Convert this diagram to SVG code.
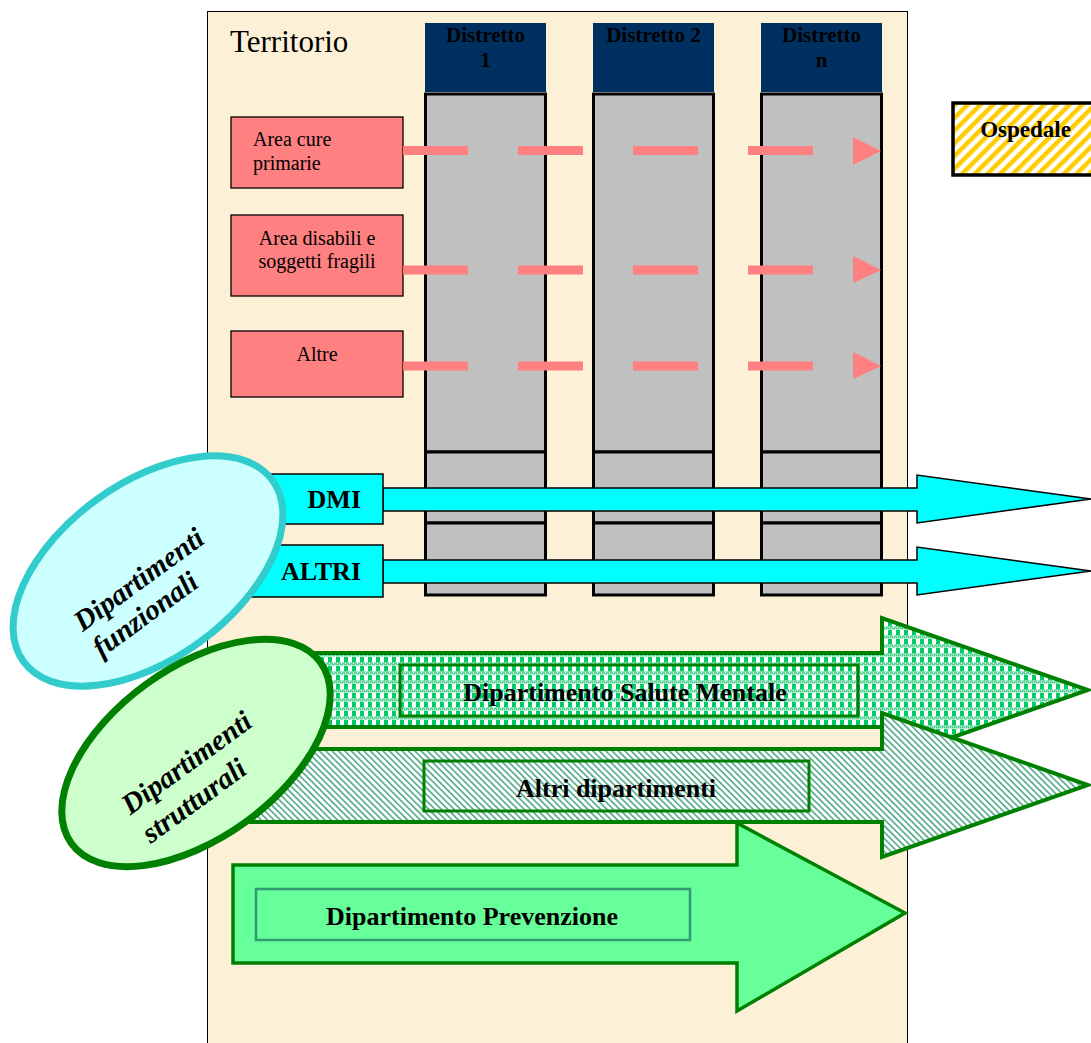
<svg xmlns="http://www.w3.org/2000/svg" width="1091" height="1043" viewBox="0 0 1091 1043">
<style>
.serif{font-family:"Liberation Serif","Times New Roman",serif;}
.hdr{font-family:"Liberation Serif",serif;font-weight:bold;font-size:21px;fill:#000;text-anchor:middle;}
.pinkt{font-family:"Liberation Serif",serif;font-size:20px;fill:#000;}
.pink{fill:#FF8080;stroke:#000;stroke-width:1.3;}
.col{fill:#C0C0C0;stroke:#000;stroke-width:3;}
.head{fill:#003060;}
.dash{stroke:#FF8080;stroke-width:9;stroke-dasharray:65 50;fill:none;}
.tri{fill:#FF8080;}
.cyan{fill:#00FFFF;stroke:#000;stroke-width:1.5;}
.big{font-family:"Liberation Serif",serif;font-weight:bold;font-size:26px;fill:#000;}
.ell{font-family:"Liberation Serif",serif;font-weight:bold;font-style:italic;font-size:29px;fill:#000;}
.garrow{stroke:#008000;stroke-width:4;stroke-linejoin:miter;}
.inner{fill:none;stroke:#008000;stroke-width:3;}
</style>
<defs>
<pattern id="ospStripe" width="9" height="9" patternUnits="userSpaceOnUse" patternTransform="rotate(45)">
<rect width="9" height="9" fill="#FFFFFF"/>
<rect width="4.5" height="9" fill="#FFCC00"/>
</pattern>
<pattern id="check" width="8" height="9" patternUnits="userSpaceOnUse">
<rect width="8" height="9" fill="#FFFFFF"/>
<rect x="0" y="0" width="4" height="5.5" fill="#00CC66"/>
<rect x="0" y="5.5" width="8" height="3" fill="#55D395"/>
<rect x="1" y="6" width="1" height="1" fill="#FFFFFF"/>
<rect x="5" y="6" width="1" height="1" fill="#FFFFFF"/>
<rect x="3" y="7.5" width="1" height="1" fill="#FFFFFF"/>
<rect x="7" y="7.5" width="1" height="1" fill="#FFFFFF"/>
</pattern>
<pattern id="hatch" width="4.5" height="4.5" patternUnits="userSpaceOnUse" patternTransform="rotate(-45)">
<rect width="4.5" height="4.5" fill="#FFFFFF"/>
<rect width="1.6" height="4.5" fill="#4FA886"/>
</pattern>
</defs>

<g id="territorio">
<rect x="207.5" y="11.5" width="700" height="1040" fill="#FCF0D6" stroke="#000" stroke-width="1"/>
<text x="230" y="52" class="serif" font-size="31" fill="#000">Territorio</text>
</g>

<g id="distretto1">
<rect class="head" x="425" y="23" width="121" height="69"/>
<text class="hdr" x="485.5" y="42">Distretto</text>
<text class="hdr" x="485.5" y="67">1</text>
<rect class="col" x="425.5" y="94" width="120" height="358"/>
<rect class="col" x="425.5" y="452" width="120" height="71"/>
<rect class="col" x="425.5" y="523" width="120" height="72"/>
</g>
<g id="distretto2">
<rect class="head" x="593" y="23" width="121" height="69"/>
<text class="hdr" x="653.5" y="42">Distretto 2</text>
<rect class="col" x="593.5" y="94" width="120" height="358"/>
<rect class="col" x="593.5" y="452" width="120" height="71"/>
<rect class="col" x="593.5" y="523" width="120" height="72"/>
</g>
<g id="distrettoN">
<rect class="head" x="761" y="23" width="121" height="69"/>
<text class="hdr" x="821.5" y="42">Distretto</text>
<text class="hdr" x="821.5" y="67">n</text>
<rect class="col" x="761.5" y="94" width="120" height="358"/>
<rect class="col" x="761.5" y="452" width="120" height="71"/>
<rect class="col" x="761.5" y="523" width="120" height="72"/>
</g>

<g id="area-cure">
<rect class="pink" x="231" y="117" width="172" height="71"/>
<text class="pinkt" x="253" y="146">Area cure</text>
<text class="pinkt" x="253" y="170">primarie</text>
</g>
<g id="area-disabili">
<rect class="pink" x="231" y="215" width="172" height="81"/>
<text class="pinkt" x="317" y="245" text-anchor="middle">Area disabili e</text>
<text class="pinkt" x="317" y="268" text-anchor="middle">soggetti fragili</text>
</g>
<g id="altre">
<rect class="pink" x="231" y="331" width="172" height="66"/>
<text class="pinkt" x="317" y="361" text-anchor="middle">Altre</text>
</g>

<g id="connectors">
<line class="dash" x1="403" y1="150.5" x2="813" y2="150.5"/>
<polygon class="tri" points="853,137 881,151 853,165"/>
<line class="dash" x1="403" y1="270" x2="813" y2="270"/>
<polygon class="tri" points="853,256 881,270 853,283"/>
<line class="dash" x1="403" y1="366" x2="813" y2="366"/>
<polygon class="tri" points="853,352 881,366 853,379"/>
</g>

<g id="ospedale">
<rect x="953" y="103" width="140" height="72" fill="url(#ospStripe)" stroke="#000" stroke-width="3.5"/>
<text class="big" x="1025.5" y="137" text-anchor="middle" style="font-size:23px">Ospedale</text>
</g>

<g id="dmi">
<polygon class="cyan" points="383,488 917,488 917,475 1091,499 917,523 917,511 383,511"/>
<rect class="cyan" x="240" y="474" width="143" height="50"/>
<text class="big" x="361" y="508" text-anchor="end">DMI</text>
</g>
<g id="altri">
<polygon class="cyan" points="383,560 917,560 917,547 1091,571 917,595 917,583 383,583"/>
<rect class="cyan" x="240" y="545" width="143" height="52"/>
<text class="big" x="361" y="580" text-anchor="end">ALTRI</text>
</g>

<g id="salute-mentale">
<polygon class="garrow" fill="url(#check)" points="300,653 882,653 882,618 1088,690 882,762 882,727 300,727"/>
<rect class="inner" x="400" y="665" width="458" height="51"/>
<text class="big" x="625" y="701" text-anchor="middle">Dipartimento Salute Mentale</text>
</g>
<g id="altri-dipartimenti">
<polygon class="garrow" fill="url(#hatch)" points="250,749 882,749 882,713 1088,785 882,857 882,822 250,822"/>
<rect class="inner" x="424" y="761" width="385" height="50"/>
<text class="big" x="616" y="797" text-anchor="middle">Altri dipartimenti</text>
</g>
<g id="prevenzione">
<polygon points="233,865 737,865 737,823 905,913 737,1011 737,963 233,963" fill="#66FF99" stroke="#008000" stroke-width="3.5"/>
<rect x="256" y="889" width="434" height="51" fill="none" stroke="#339977" stroke-width="2.5"/>
<text class="big" x="472" y="925" text-anchor="middle">Dipartimento Prevenzione</text>
</g>

<g id="dipartimenti-funzionali">
<g transform="translate(148,571) rotate(-36)">
<ellipse cx="0" cy="0" rx="154" ry="88" fill="#CCFFFF" stroke="#33CCCC" stroke-width="7"/>
<text class="ell" x="-89" y="11">Dipartimenti</text>
<text class="ell" x="-89" y="43">funzionali</text>
</g>
</g>
<g id="dipartimenti-strutturali">
<g transform="translate(196,753) rotate(-36)">
<ellipse cx="0" cy="0" rx="154" ry="85" fill="#CCFFCC" stroke="#008000" stroke-width="7"/>
<text class="ell" x="-90" y="12">Dipartimenti</text>
<text class="ell" x="-90" y="47">strutturali</text>
</g>
</g>
</svg>
